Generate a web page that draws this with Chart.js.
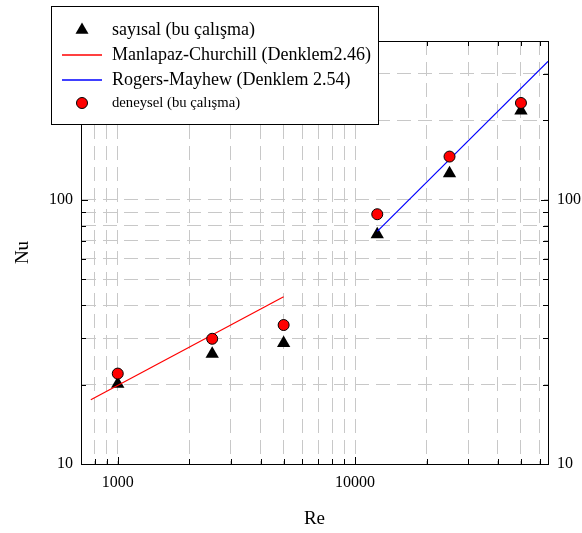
<!DOCTYPE html>
<html lang="tr">
<head>
  <meta charset="UTF-8" />
  <title>Nu - Re</title>
  <script src="https://cdn.jsdelivr.net/npm/chart.js"></script>
  <style>
    body { margin: 0; background: #fff; }
    #wrap { width: 582px; height: 533px; }
  </style>
</head>
<body>
  <div id="wrap"><canvas id="nuChart" width="582" height="533"></canvas></div>
  <script>
    // Re değerleri ve Nu sonuçları
    const reValues = [1000, 2500, 5000, 12400, 25000, 50000];
    const nuSayisal = [20.1, 26.1, 28.7, 74, 126, 218];
    const nuDeneysel = [22.0, 29.8, 33.6, 88.3, 146, 233];
    // korelasyon çizgileri (uç noktalar)
    const manlapazRe = [770, 5000];
    const manlapazNu = [17.5, 43];
    const rogersRe = [12400, 65000];
    const rogersNu = [76, 335];
    // eksenler
    const xMin = 700, xMax = 65000;
    const yMin = 10, yMax = 400;
    const xTicks = [800, 900, 1000, 2000, 3000, 4000, 5000, 6000, 7000, 8000, 9000,
                    10000, 20000, 30000, 40000, 50000, 60000];
    const yTicks = [10, 20, 30, 40, 50, 60, 70, 80, 90, 100, 200, 300];
    const xLabels = [1000, 10000];
    const yLabels = [10, 100];

    const serif = '"Liberation Serif", "DejaVu Serif", serif';
    const pts = (xs, ys) => xs.map((x, i) => ({ x: x, y: ys[i] }));
    const isDecade = v => Math.abs(Math.log10(v) - Math.round(Math.log10(v))) < 1e-9;

    function fixTicks(list) {
      return function (scale) { scale.ticks = list.map(v => ({ value: v })); };
    }

    // çerçeve içine doğru kısa tik çizgileri
    const innerTicks = {
      id: 'innerTicks',
      afterDraw(chart) {
        const ctx = chart.ctx, a = chart.chartArea;
        const xs = chart.scales.x, ys = chart.scales.y;
        ctx.save();
        ctx.strokeStyle = '#000';
        ctx.lineWidth = 1;
        ctx.beginPath();
        xTicks.forEach(v => {
          const px = Math.round(xs.getPixelForValue(v)) + 0.5;
          const len = isDecade(v) ? 7 : 5;
          ctx.moveTo(px, a.bottom); ctx.lineTo(px, a.bottom - len);
          ctx.moveTo(px, a.top); ctx.lineTo(px, a.top + len);
        });
        yTicks.forEach(v => {
          const py = Math.round(ys.getPixelForValue(v)) + 0.5;
          const len = isDecade(v) ? 7 : 5;
          ctx.moveTo(a.left, py); ctx.lineTo(a.left + len, py);
          ctx.moveTo(a.right, py); ctx.lineTo(a.right - len, py);
        });
        ctx.stroke();
        ctx.restore();
      }
    };

    // grafik alanının üstüne binen lejant kutusu
    const boxLegend = {
      id: 'boxLegend',
      afterDraw(chart) {
        const ctx = chart.ctx;
        const ds = chart.data.datasets;
        const bx = 51, by = 6, bw = 327, bh = 118;
        const sx = 82, tx = 112;
        ctx.save();
        ctx.fillStyle = '#fff';
        ctx.fillRect(bx, by, bw, bh);
        ctx.strokeStyle = '#000';
        ctx.lineWidth = 1;
        ctx.strokeRect(bx + 0.5, by + 0.5, bw, bh);

        ctx.textBaseline = 'middle';
        ctx.textAlign = 'left';
        ctx.fillStyle = '#000';

        // üçgen
        let y = 30;
        const r = 7.5;
        ctx.beginPath();
        for (let k = 0; k < 3; k++) {
          const ang = k * 2 * Math.PI / 3;
          const px = sx + Math.sin(ang) * r, py = y - Math.cos(ang) * r;
          if (k === 0) ctx.moveTo(px, py); else ctx.lineTo(px, py);
        }
        ctx.closePath();
        ctx.fill();
        ctx.font = '18px ' + serif;
        ctx.fillText(ds[0].label, tx, y);

        // korelasyon çizgileri
        [[1, 55], [2, 80]].forEach(([i, ly]) => {
          ctx.strokeStyle = ds[i].borderColor;
          ctx.lineWidth = 1.3;
          ctx.beginPath(); ctx.moveTo(62, ly); ctx.lineTo(102, ly); ctx.stroke();
          ctx.fillText(ds[i].label, tx, ly);
        });

        // daire
        y = 103;
        ctx.lineWidth = 1;
        ctx.fillStyle = ds[3].backgroundColor;
        ctx.strokeStyle = '#000';
        ctx.beginPath(); ctx.arc(sx, y, 5.5, 0, 2 * Math.PI); ctx.fill(); ctx.stroke();
        ctx.fillStyle = '#000';
        ctx.font = '14.7px ' + serif;
        ctx.fillText(ds[3].label, tx, y);
        ctx.restore();
      }
    };

    const gridOpts = { color: '#c8c8c8', lineWidth: 1, drawTicks: false };
    const borderOpts = { color: '#000', width: 1, dash: [14, 7] };
    const tickFont = { family: serif, size: 16 };
    const titleFont = { family: serif, size: 19 };

    new Chart(document.getElementById('nuChart'), {
      type: 'scatter',
      data: {
        datasets: [
          {
            label: 'sayısal (bu çalışma)',
            data: pts(reValues, nuSayisal),
            pointStyle: 'triangle',
            pointRadius: 7.7,
            backgroundColor: '#000',
            borderColor: '#000',
            borderWidth: 0,
            order: 3
          },
          {
            label: 'Manlapaz-Churchill (Denklem2.46)',
            type: 'line',
            data: pts(manlapazRe, manlapazNu),
            borderColor: '#ff0000',
            borderWidth: 1.2,
            pointRadius: 0,
            fill: false,
            order: 2
          },
          {
            label: 'Rogers-Mayhew (Denklem 2.54)',
            type: 'line',
            data: pts(rogersRe, rogersNu),
            borderColor: '#0000ff',
            borderWidth: 1.2,
            pointRadius: 0,
            fill: false,
            order: 2
          },
          {
            label: 'deneysel (bu çalışma)',
            data: pts(reValues, nuDeneysel),
            pointStyle: 'circle',
            pointRadius: 5.5,
            backgroundColor: '#ff0000',
            borderColor: '#000',
            borderWidth: 1,
            order: 1
          }
        ]
      },
      options: {
        responsive: false,
        animation: false,
        layout: { padding: 0 },
        plugins: {
          legend: { display: false },
          tooltip: { enabled: false }
        },
        scales: {
          x: {
            type: 'logarithmic',
            position: 'bottom',
            min: xMin, max: xMax,
            afterBuildTicks: fixTicks(xTicks),
            afterFit(s) { s.height = 69; },
            grid: gridOpts,
            border: borderOpts,
            ticks: {
              autoSkip: false, maxRotation: 0, padding: 9,
              color: '#000', font: tickFont,
              callback: v => xLabels.includes(v) ? String(v) : ''
            },
            title: {
              display: true, text: 'Re', color: '#000',
              font: titleFont, padding: { top: 0, bottom: 3 }
            }
          },
          x2: {
            type: 'logarithmic',
            position: 'top',
            min: xMin, max: xMax,
            afterBuildTicks: fixTicks(xTicks),
            afterFit(s) { s.height = 41; },
            grid: { display: false, drawTicks: false },
            border: { color: '#000', width: 1 },
            ticks: { display: false }
          },
          y: {
            type: 'logarithmic',
            position: 'left',
            min: yMin, max: yMax,
            afterBuildTicks: fixTicks(yTicks),
            afterFit(s) { s.width = 81; },
            grid: gridOpts,
            border: borderOpts,
            ticks: {
              autoSkip: false, padding: 8,
              color: '#000', font: tickFont,
              callback: v => yLabels.includes(v) ? String(v) : ''
            },
            title: {
              display: true, text: 'Nu', color: '#000',
              font: titleFont, padding: { top: 12, bottom: 0 }
            }
          },
          y2: {
            type: 'logarithmic',
            position: 'right',
            min: yMin, max: yMax,
            afterBuildTicks: fixTicks(yTicks),
            afterFit(s) { s.width = 34; },
            grid: { display: false, drawTicks: false },
            border: { color: '#000', width: 1 },
            ticks: {
              autoSkip: false, padding: 9,
              color: '#000', font: tickFont,
              callback: v => yLabels.includes(v) ? String(v) : ''
            }
          }
        }
      },
      plugins: [innerTicks, boxLegend]
    });
  </script>
</body>
</html>
